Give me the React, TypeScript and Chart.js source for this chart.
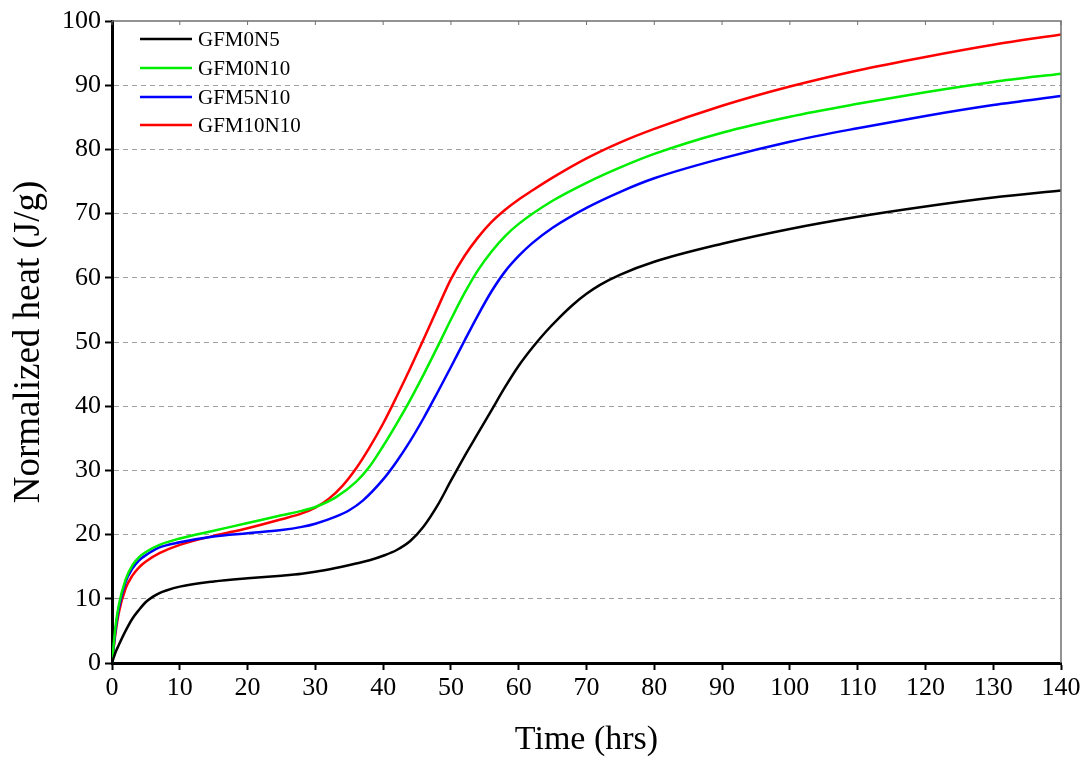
import React, { useEffect, useRef } from "react";
import { Chart, registerables } from "chart.js";

Chart.register(...registerables);

const seriesNames = ["GFM0N5", "GFM0N10", "GFM5N10", "GFM10N10"];
const seriesColors = ["#000000", "#00ee00", "#0000ff", "#ff0000"];

const timeBlack = [0, 0.5, 1, 2, 3, 4, 5, 6, 7, 8, 10, 15, 20, 25, 28, 30, 33, 36, 38, 40, 42, 44, 46, 48, 50, 52, 54, 56, 58, 60, 62, 64, 66, 68, 70, 72, 75, 80, 90, 100, 110, 120, 130, 140];
const heatBlack = [0, 1.6, 2.8, 5.0, 6.9, 8.3, 9.5, 10.3, 10.9, 11.3, 11.9, 12.7, 13.2, 13.6, 13.9, 14.2, 14.8, 15.5, 16.0, 16.7, 17.6, 19.0, 21.3, 24.5, 28.4, 32.2, 35.8, 39.4, 43.0, 46.3, 49.1, 51.6, 53.8, 55.8, 57.5, 58.9, 60.5, 62.5, 65.3, 67.6, 69.5, 71.1, 72.5, 73.6];

const timeGreen = [0, 0.5, 1, 2, 3, 4, 5, 7, 10, 15, 20, 25, 28, 30, 33, 36, 38, 40, 42, 44, 46, 48, 50, 52, 54, 56, 58, 60, 65, 70, 75, 80, 90, 100, 110, 120, 130, 140];
const heatGreen = [0, 5.5, 9.0, 13.0, 15.2, 16.5, 17.3, 18.4, 19.4, 20.6, 21.8, 23.0, 23.7, 24.3, 25.8, 28.2, 30.6, 33.8, 37.3, 41.0, 45.0, 49.2, 53.5, 57.6, 61.2, 64.1, 66.5, 68.4, 72.0, 74.8, 77.2, 79.3, 82.6, 85.1, 87.1, 88.9, 90.5, 91.8];

const timeBlue = [0, 0.5, 1, 2, 3, 4, 5, 7, 10, 15, 20, 25, 28, 30, 33, 35, 37, 40, 42, 44, 46, 48, 50, 52, 54, 56, 58, 60, 62, 65, 70, 75, 80, 90, 100, 110, 120, 130, 140];
const heatBlue = [0, 5.0, 8.5, 12.6, 14.7, 16.0, 16.8, 18.0, 18.8, 19.7, 20.2, 20.7, 21.2, 21.7, 22.8, 23.8, 25.3, 28.6, 31.4, 34.6, 38.2, 42.1, 46.1, 50.2, 54.2, 57.9, 61.0, 63.4, 65.4, 67.8, 70.9, 73.4, 75.5, 78.6, 81.2, 83.3, 85.2, 86.9, 88.3];

const timeRed = [0, 0.5, 1, 2, 3, 4, 5, 7, 10, 15, 20, 25, 28, 30, 32, 34, 36, 38, 40, 42, 44, 46, 48, 50, 52, 54, 56, 58, 60, 62, 65, 70, 75, 80, 90, 100, 110, 120, 130, 140];
const heatRed = [0, 4.5, 7.8, 11.6, 13.6, 14.9, 15.8, 17.1, 18.4, 19.8, 21.0, 22.4, 23.3, 24.2, 25.6, 27.6, 30.3, 33.6, 37.3, 41.5, 45.9, 50.5, 55.2, 59.8, 63.4, 66.3, 68.7, 70.6, 72.2, 73.6, 75.6, 78.6, 81.1, 83.2, 86.8, 89.8, 92.3, 94.4, 96.3, 97.9];

const xTicks = [0, 10, 20, 30, 40, 50, 60, 70, 80, 90, 100, 110, 120, 130, 140];
const yTicks = [0, 10, 20, 30, 40, 50, 60, 70, 80, 90, 100];

const times = [timeBlack, timeGreen, timeBlue, timeRed];
const heats = [heatBlack, heatGreen, heatBlue, heatRed];

const FONT = '"Liberation Serif", "Times New Roman", serif';

const framePlugin = {
  id: "frame",
  afterDatasetsDraw(chart: any) {
    const { ctx, chartArea } = chart;
    const { left, right, top, bottom } = chartArea;
    ctx.save();
    ctx.strokeStyle = "#707070";
    ctx.lineWidth = 1.5;
    ctx.beginPath();
    ctx.moveTo(left, top);
    ctx.lineTo(right, top);
    ctx.lineTo(right, bottom);
    ctx.stroke();
    const xs = chart.scales.x;
    ctx.lineWidth = 1;
    for (const t of xTicks) {
      const px = xs.getPixelForValue(t);
      ctx.beginPath();
      ctx.moveTo(px, top);
      ctx.lineTo(px, top + 4);
      ctx.stroke();
    }
    // legend
    ctx.font = `21px ${FONT}`;
    ctx.textBaseline = "middle";
    ctx.textAlign = "left";
    const rowY = [39, 68, 97, 125];
    for (let i = 0; i < seriesNames.length; i++) {
      const y = rowY[i];
      ctx.strokeStyle = seriesColors[i];
      ctx.lineWidth = 2.5;
      ctx.beginPath();
      ctx.moveTo(left + 28, y);
      ctx.lineTo(left + 80, y);
      ctx.stroke();
      ctx.fillStyle = "#000";
      ctx.fillText(seriesNames[i], left + 86, y + 1);
    }
    ctx.restore();
  },
};

export default function App() {
  const ref = useRef<HTMLCanvasElement | null>(null);
  useEffect(() => {
    if (!ref.current) return;
    const datasets = seriesNames.map((name, i) => ({
      label: name,
      data: times[i].map((t, j) => ({ x: t, y: heats[i][j] })),
      borderColor: seriesColors[i],
      backgroundColor: seriesColors[i],
      borderWidth: 2.5,
      pointRadius: 0,
      cubicInterpolationMode: "monotone" as const,
      fill: false,
    }));
    const chart = new Chart(ref.current, {
      type: "line",
      data: { datasets },
      plugins: [framePlugin],
      options: {
        animation: false,
        responsive: true,
        maintainAspectRatio: false,
        layout: { padding: { left: 0, right: 28, top: 21, bottom: 0 } },
        plugins: { legend: { display: false }, tooltip: { enabled: false } },
        scales: {
          x: {
            type: "linear",
            min: 0,
            max: 140,
            afterBuildTicks: (s: any) => {
              s.ticks = xTicks.map((v) => ({ value: v }));
            },
            afterFit: (s: any) => {
              s.height = 97;
            },
            ticks: {
              color: "#000",
              font: { family: FONT, size: 26 },
              padding: 3,
              maxRotation: 0,
              autoSkip: false,
            },
            grid: {
              drawOnChartArea: false,
              drawTicks: true,
              tickLength: 7,
              tickColor: "#000",
              tickWidth: 2,
            },
            border: { display: true, color: "#000", width: 3 },
            title: {
              display: true,
              text: "Time (hrs)",
              color: "#000",
              font: { family: FONT, size: 34, lineHeight: 1 },
              padding: { top: 0, bottom: 3 },
            },
          },
          y: {
            type: "linear",
            min: 0,
            max: 100,
            afterBuildTicks: (s: any) => {
              s.ticks = yTicks.map((v) => ({ value: v }));
            },
            afterFit: (s: any) => {
              s.width = 112;
            },
            ticks: {
              color: "#000",
              font: { family: FONT, size: 26 },
              padding: 4,
              autoSkip: false,
            },
            grid: {
              drawOnChartArea: true,
              drawTicks: true,
              tickLength: 7,
              tickColor: "#000",
              tickWidth: 2,
              color: (c: any) => (c.tick && (c.tick.value === 0 || c.tick.value === 100) ? "rgba(0,0,0,0)" : "#a0a0a0"),
              lineWidth: 1,
              tickBorderDash: [],
            },
            border: { display: true, color: "#000", width: 3, dash: [5, 4] },
            title: {
              display: true,
              text: "Normalized heat (J/g)",
              color: "#000",
              font: { family: FONT, size: 37, lineHeight: 1 },
              padding: { top: 11, bottom: 0 },
            },
          },
        },
      },
    });
    return () => chart.destroy();
  }, []);
  return (
    <div style={{ position: "absolute", left: 0, top: 0, width: 1089, height: 760, background: "#fff" }}>
      <canvas ref={ref} />
    </div>
  );
}
